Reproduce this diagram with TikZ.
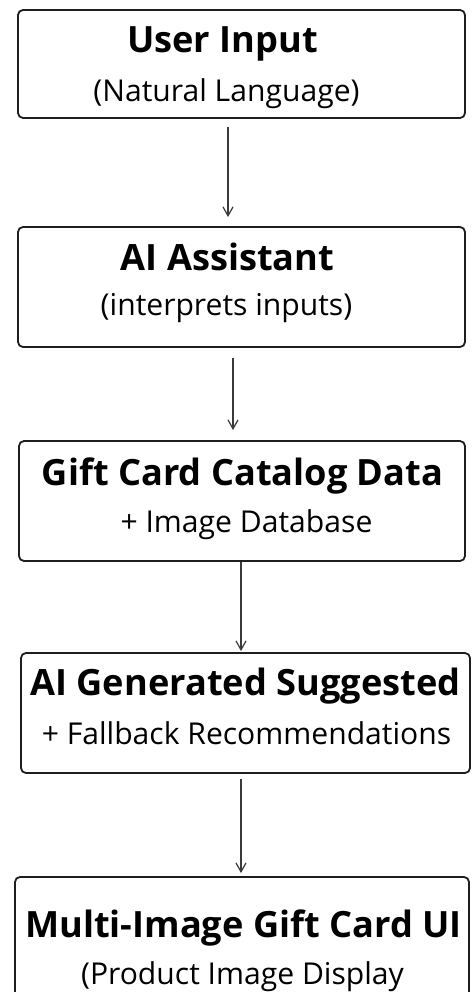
\documentclass[tikz,border=0pt]{standalone}
\usepackage{fontspec}
\setmainfont{Open Sans}
\usetikzlibrary{arrows.meta}
\definecolor{trait}{HTML}{1E1E1E}
\definecolor{gristrait}{HTML}{3A3A3A}
\tikzstyle{boite}     =[draw=trait, line width=1.8pt, rounded corners=5pt, inner sep=0pt]
\tikzstyle{titre}     =[anchor=base, inner sep=0pt, font=\fontsize{36.2}{42}\selectfont\bfseries]
\tikzstyle{soustitre} =[anchor=base, inner sep=0pt, font=\fontsize{30.1}{36}\selectfont]
\tikzstyle{lien}      =[draw=gristrait, line width=1.2pt, -{Straight Barb[length=9pt,width=10pt]}]

\begin{document}
\begin{tikzpicture}[x=1pt,y=-1pt]

\useasboundingbox (0,0) rectangle (472,992);
\clip (0,0) rectangle (472,992);

%%%%%%%%%%%%%%%%%%%%%%%%
%Les boîtes
%%%%%%%%%%%%%%%%%%%%%%%%

\node[boite, minimum width=447pt, minimum height=108pt] (entree) at (241.5,64) {};
\node[titre] (entreeT) at (222.5,53) {User Input};
\node[soustitre] (entreeS) at (226.5,102) {(Natural Language)};

\node[boite, minimum width=447pt, minimum height=120pt] (assistant) at (241.5,287) {};
\node[titre] (assistantT) at (227.5,270) {AI Assistant};
\node[soustitre] (assistantS) at (226.5,315) {(interprets inputs)};

\node[boite, minimum width=446pt, minimum height=120pt] (catalogue) at (242,501) {};
\node[titre] (catalogueT) at (242.5,485) {Gift Card Catalog Data};
\node[soustitre] (catalogueS) at (246.5,532) {+ Image Database};

\node[boite, minimum width=449pt, minimum height=120pt] (suggestion) at (245.5,713) {};
\node[titre] (suggestionT) at (245.5,695) {AI Generated Suggested};
\node[soustitre] (suggestionS) at (246.5,744) {+ Fallback Recommendations};

\node[boite, minimum width=454pt, minimum height=120pt] (interface) at (242,937) {};
\node[titre] (interfaceT) at (243.5,937) {Multi-Image Gift Card UI};
\node[soustitre] (interfaceS) at (242.5,984) {(Product Image Display};

%%%%%%%%%%%%%%%%%%%%%%%%
%Les flèches
%%%%%%%%%%%%%%%%%%%%%%%%

\draw[lien, shorten <=8pt, shorten >=9pt] (entree.south -| 228,0) -- (assistant.north -| 228,0);
\draw[lien, shorten <=10pt, shorten >=10pt] (assistant.south -| 233,0) -- (catalogue.north -| 233,0);
\draw[lien, shorten >=1pt] (catalogue.south -| 241,0) -- (suggestion.north -| 241,0);
\draw[lien, shorten <=5pt, shorten >=3pt] (suggestion.south -| 241,0) -- (interface.north -| 241,0);

\end{tikzpicture}
\end{document}
